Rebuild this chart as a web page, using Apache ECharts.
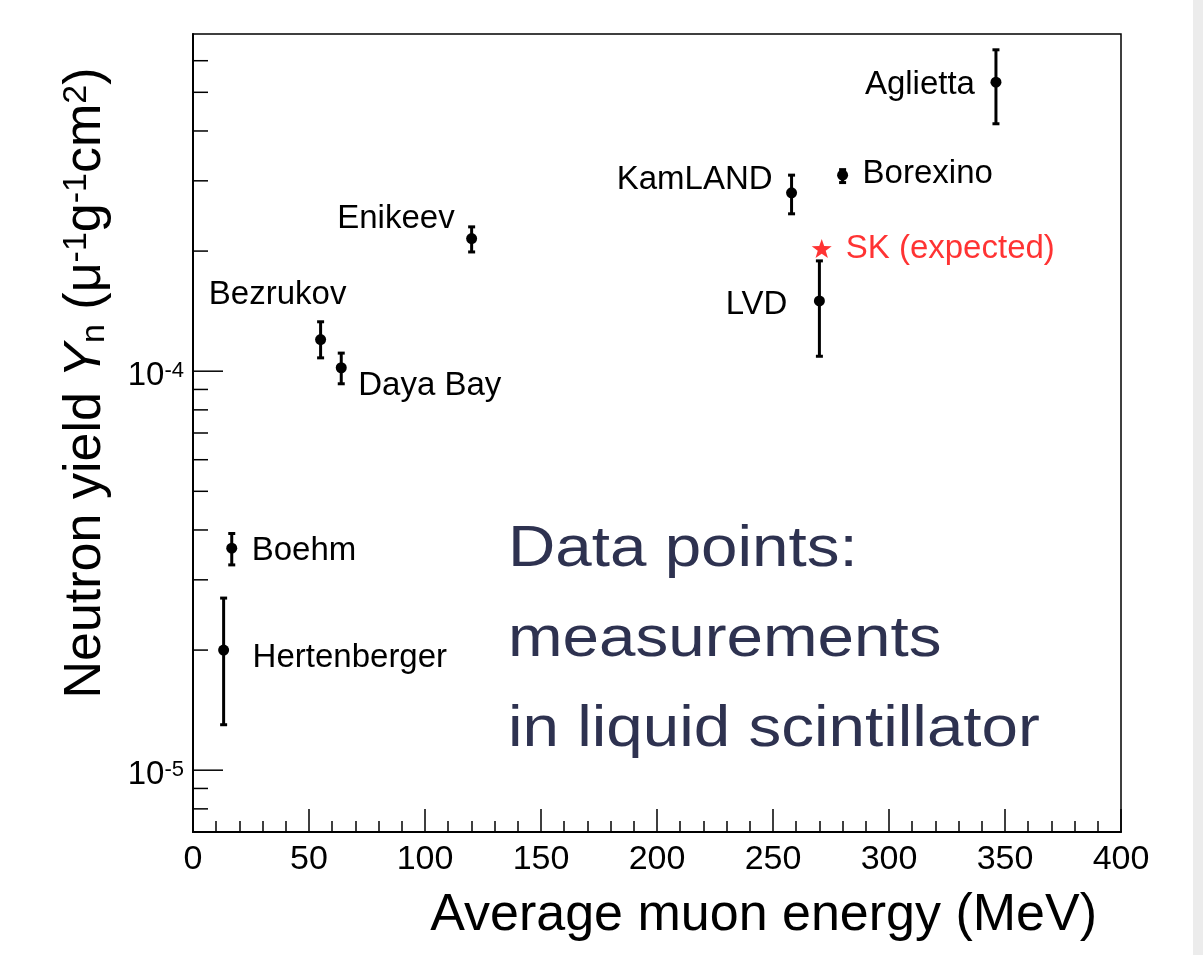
<!DOCTYPE html>
<html>
<head>
<meta charset="utf-8">
<script src="https://cdn.jsdelivr.net/npm/echarts@6/dist/echarts.min.js"></script>
<style>
  html, body { margin: 0; width: 100%; height: 100%; background: #fff; }
  #main { width: 1203px; height: 955px; }
</style>
</head>
<body>
<div id="main"></div>
<script>
  // neutron yield measurements in liquid scintillator
  const names = ['Hertenberger', 'Boehm', 'Bezrukov', 'Daya Bay', 'Enikeev', 'KamLAND', 'LVD', 'Borexino', 'Aglietta'];
  const energy = [13.2, 16.7, 55.0, 63.9, 120.1, 258.0, 270.0, 280.0, 346.1];
  const yieldVal = [2.0e-5, 3.6e-5, 1.2e-4, 1.02e-4, 2.15e-4, 2.8e-4, 1.5e-4, 3.1e-4, 5.3e-4];
  const yieldLow = [1.30e-5, 3.27e-5, 1.08e-4, 0.93e-4, 1.99e-4, 2.48e-4, 1.09e-4, 2.97e-4, 4.17e-4];
  const yieldHigh = [2.70e-5, 3.92e-5, 1.33e-4, 1.11e-4, 2.30e-4, 3.10e-4, 1.89e-4, 3.20e-4, 6.39e-4];

  // Super-K expectation
  const skName = 'SK (expected)';
  const skEnergy = 271;
  const skYield = 2.03e-4;

  // axes
  const xMin = 0, xMax = 400, xStep = 50;
  const yMin = 7e-6, yMax = 7e-4;
  const yMajorTicks = [1e-5, 1e-4];
  const yMajorLabels = ['-5', '-4'];
  const yMinorTicks = [8e-6, 9e-6, 2e-5, 3e-5, 4e-5, 5e-5, 6e-5, 7e-5, 8e-5, 9e-5, 2e-4, 3e-4, 4e-4, 5e-4, 6e-4];

  // where each name sits relative to its point (px)
  const labelPos = [
    [29, 8, 'left'], [20, 3, 'left'], [-43, -45, 'center'], [17, 18, 'left'], [-17, -20, 'right'],
    [-19, -13, 'right'], [-32, 4, 'right'], [20, -1, 'left'], [-21, 3, 'right']
  ];

  const FONT = '"Liberation Sans", Arial, Helvetica, sans-serif';
  const chart = echarts.init(document.getElementById('main'));

  const pointData = energy.map((e, i) => [e, yieldVal[i], yieldLow[i], yieldHigh[i]]);

  function renderPoint(params, api) {
    const i = params.dataIndex;
    const c = api.coord([api.value(0), api.value(1)]);
    const lo = api.coord([api.value(0), api.value(2)]);
    const hi = api.coord([api.value(0), api.value(3)]);
    const lp = labelPos[i];
    const bar = { stroke: '#000', lineWidth: 3 };
    return {
      type: 'group',
      children: [
        { type: 'line', shape: { x1: c[0], y1: hi[1], x2: c[0], y2: lo[1] }, style: bar },
        { type: 'line', shape: { x1: c[0] - 3.5, y1: hi[1], x2: c[0] + 3.5, y2: hi[1] }, style: bar },
        { type: 'line', shape: { x1: c[0] - 3.5, y1: lo[1], x2: c[0] + 3.5, y2: lo[1] }, style: bar },
        { type: 'circle', shape: { cx: c[0], cy: c[1], r: 5.5 }, style: { fill: '#000' } },
        {
          type: 'text', x: c[0] + lp[0], y: c[1] + lp[1],
          style: { text: names[i], fill: '#000', fontSize: 33, fontFamily: FONT, align: lp[2], verticalAlign: 'middle' }
        }
      ]
    };
  }

  const yTickData = yMajorTicks.map(v => [xMin, v, 1]).concat(yMinorTicks.map(v => [xMin, v, 0]));

  function renderYTick(params, api) {
    const p = api.coord([api.value(0), api.value(1)]);
    const len = api.value(2) ? 30 : 15;
    return {
      type: 'line',
      shape: { x1: p[0], y1: p[1], x2: p[0] + len, y2: p[1] },
      style: { stroke: '#000', lineWidth: 1.5 }
    };
  }

  function renderYLabel(params, api) {
    const p = api.coord([api.value(0), api.value(1)]);
    return {
      type: 'text', x: p[0] - 9, y: p[1] + 5,
      style: {
        text: '{b|10}{s|' + yMajorLabels[params.dataIndex] + '}',
        align: 'right', verticalAlign: 'middle',
        rich: {
          b: { fontSize: 33, fontFamily: FONT, fill: '#000', verticalAlign: 'bottom' },
          s: { fontSize: 22, fontFamily: FONT, fill: '#000', verticalAlign: 'top' }
        }
      }
    };
  }

  chart.setOption({
    backgroundColor: '#fff',
    animation: false,
    grid: {
      left: 193, top: 34, right: 82, bottom: 123,
      show: true, borderColor: '#000', borderWidth: 1.5, backgroundColor: 'transparent'
    },
    xAxis: {
      type: 'value', min: xMin, max: xMax, interval: xStep,
      axisLine: { onZero: false, lineStyle: { color: '#000', width: 2 } },
      axisTick: { inside: true, length: 23, lineStyle: { color: '#000', width: 1.5 } },
      minorTick: { show: true, splitNumber: 5, length: 11, lineStyle: { color: '#000', width: 1.5 } },
      axisLabel: { color: '#000', fontSize: 34, fontFamily: FONT, margin: 11 },
      splitLine: { show: false }
    },
    yAxis: {
      type: 'log', logBase: 10, min: yMin, max: yMax,
      axisLine: { show: true, lineStyle: { color: '#000', width: 2 } },
      axisTick: { show: false },
      axisLabel: { show: false },
      splitLine: { show: false }
    },
    graphic: [
      { type: 'rect', right: 0, top: 0, shape: { width: 10, height: 955 }, style: { fill: '#ececec' } },
      {
        type: 'text', x: 86, y: 383, rotation: Math.PI / 2,
        style: {
          text: '{t|Neutron yield }{i|Y}{sub|n}{t| (μ}{sup|-1}{t|g}{sup|-1}{t|cm}{sup|2}{t|)}',
          align: 'center', verticalAlign: 'middle',
          rich: {
            t: { fontSize: 52, fontFamily: FONT, fill: '#000' },
            i: { fontSize: 52, fontFamily: FONT, fontStyle: 'italic', fill: '#000' },
            sub: { fontSize: 34, fontFamily: FONT, fill: '#000', verticalAlign: 'bottom' },
            sup: { fontSize: 34, fontFamily: FONT, fill: '#000', verticalAlign: 'top' }
          }
        }
      },
      {
        type: 'text', x: 1097, y: 916,
        style: { text: 'Average muon energy (MeV)', fontSize: 52, fontFamily: FONT, fill: '#000', align: 'right', verticalAlign: 'middle' }
      },
      {
        type: 'text', x: 508, y: 505, scaleX: 1.13,
        style: { text: 'Data points:\nmeasurements\nin liquid scintillator', fontSize: 58, lineHeight: 90, fontFamily: FONT, fill: '#2e3250', align: 'left', verticalAlign: 'top' }
      }
    ],
    series: [
      { type: 'custom', renderItem: renderYTick, data: yTickData, silent: true },
      { type: 'custom', renderItem: renderYLabel, data: yMajorTicks.map(v => [xMin, v]), silent: true, clip: false },
      { type: 'custom', renderItem: renderPoint, data: pointData, clip: false },
      {
        type: 'scatter',
        data: [[skEnergy, skYield]],
        symbol: 'path://M0,-10L2.35,-3.24L9.51,-3.09L3.8,1.24L5.88,8.09L0,4L-5.88,8.09L-3.8,1.24L-9.51,-3.09L-2.35,-3.24Z',
        symbolSize: [20, 19],
        itemStyle: { color: '#ff0000' },
        label: {
          show: true, position: 'right', distance: 14, formatter: skName,
          color: '#ff0000', fontSize: 33, fontFamily: FONT
        }
      }
    ]
  });
</script>
</body>
</html>
